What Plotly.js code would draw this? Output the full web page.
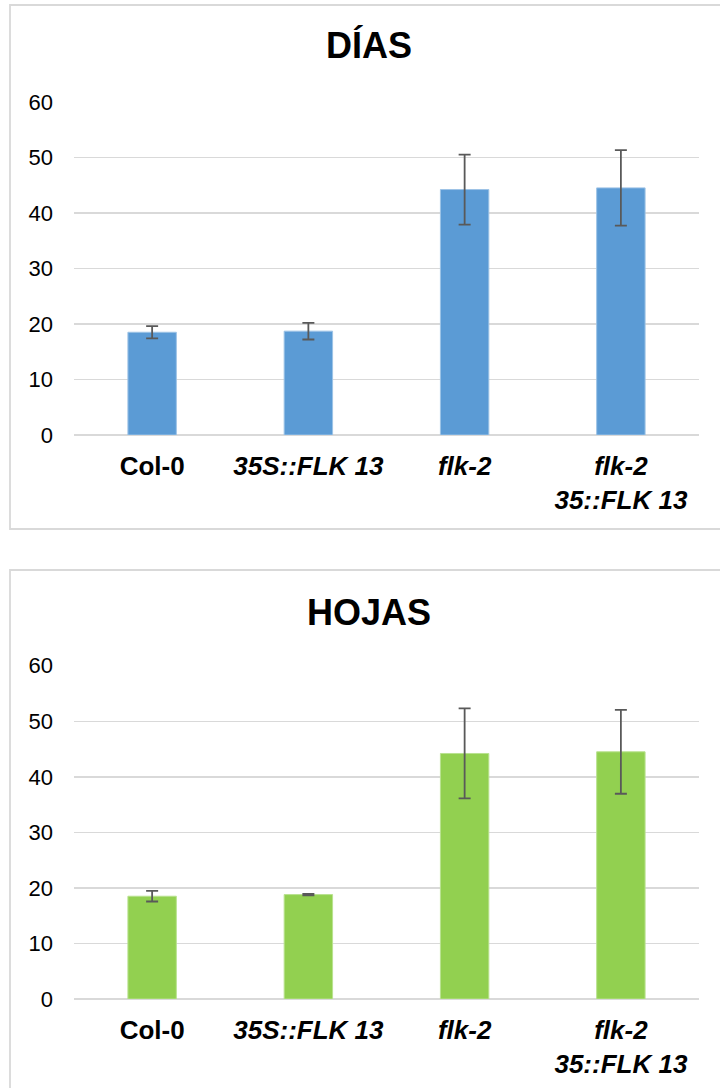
<!DOCTYPE html>
<html>
<head>
<meta charset="utf-8">
<script src="https://cdn.plot.ly/plotly-3.0.1.min.js"></script>
<style>
  html, body { margin: 0; padding: 0; background: #ffffff; }
  #chart { width: 720px; height: 1088px; }
</style>
</head>
<body>
<div id="chart"></div>
<script>
// ---- Data ----
const categories = ['Col-0', '35S::FLK 13', 'flk-2', 'flk-2 35::FLK 13'];
const tickLabels = ['Col-0', '<i>35S::FLK 13</i>', '<i>flk-2</i>', '<i>flk-2</i><br><i>35::FLK 13</i>'];
const diasMean = [18.5, 18.7, 44.2, 44.5];
const diasErr = [1.1, 1.5, 6.3, 6.8];
const hojasMean = [18.5, 18.8, 44.2, 44.5];
const hojasErr = [0.95, 0.12, 8.1, 7.55];
const yTicks = [0, 10, 20, 30, 40, 50, 60];
const titleDias = 'DÍAS';
const titleHojas = 'HOJAS';

// ---- Layout helpers ----
const W = 720, H = 1088;
const px = x => x / W;
const py = y => 1 - y / H;

const FONT = 'Liberation Sans, Arial, Helvetica, sans-serif';

const errStyle = (arr) => ({
  type: 'data', array: arr, symmetric: true, visible: true,
  color: '#595959', thickness: 1.8, width: 6
});

const traces = [
  {
    type: 'bar', x: categories, y: diasMean, xaxis: 'x', yaxis: 'y',
    marker: { color: '#5b9bd5', line: { color: '#9dc3e6', width: 1 } },
    error_y: errStyle(diasErr), hoverinfo: 'x+y'
  },
  {
    type: 'bar', x: categories, y: hojasMean, xaxis: 'x2', yaxis: 'y2',
    marker: { color: '#92d050', line: { color: '#b9e28f', width: 1 } },
    error_y: errStyle(hojasErr), hoverinfo: 'x+y'
  }
];

const xCommon = {
  type: 'category',
  tickmode: 'array', tickvals: categories, ticktext: tickLabels,
  tickfont: { family: FONT, size: 26, color: '#000000', weight: 'bold' },
  showgrid: false, showline: false, zeroline: false, ticks: '',
  ticklabelstandoff: 13, fixedrange: true
};
const yCommon = {
  range: [0, 60], tickmode: 'array', tickvals: yTicks,
  tickfont: { family: FONT, size: 22, color: '#000000' },
  showgrid: true, gridcolor: '#d9d9d9', gridwidth: 1.5,
  zeroline: true, zerolinecolor: '#d9d9d9', zerolinewidth: 1.5,
  showline: false, ticks: '', ticklabelstandoff: 20, fixedrange: true
};

const layout = {
  width: W, height: H,
  margin: { l: 0, r: 0, t: 0, b: 0, pad: 0 },
  paper_bgcolor: '#ffffff', plot_bgcolor: '#ffffff',
  showlegend: false,
  bargap: 0.69,
  xaxis: Object.assign({}, xCommon, { domain: [px(74), px(699)], anchor: 'y' }),
  yaxis: Object.assign({}, yCommon, { domain: [py(435), py(101.8)], anchor: 'x' }),
  xaxis2: Object.assign({}, xCommon, { domain: [px(74), px(699)], anchor: 'y2' }),
  yaxis2: Object.assign({}, yCommon, { domain: [py(999), py(665.7)], anchor: 'x2' }),
  shapes: [
    { type: 'rect', xref: 'paper', yref: 'paper', x0: px(10), x1: 1.05, y0: py(529), y1: py(5),
      line: { color: '#d9d9d9', width: 1.8 }, fillcolor: 'rgba(0,0,0,0)', layer: 'below' },
    { type: 'rect', xref: 'paper', yref: 'paper', x0: px(10), x1: 1.05, y0: -0.05, y1: py(570),
      line: { color: '#d9d9d9', width: 1.8 }, fillcolor: 'rgba(0,0,0,0)', layer: 'below' }
  ],
  annotations: [
    { text: '<b>' + titleDias + '</b>', xref: 'paper', yref: 'paper', x: px(369), y: py(46),
      xanchor: 'center', yanchor: 'middle', showarrow: false,
      font: { family: FONT, size: 36, color: '#000000' } },
    { text: '<b>' + titleHojas + '</b>', xref: 'paper', yref: 'paper', x: px(369), y: py(612),
      xanchor: 'center', yanchor: 'middle', showarrow: false,
      font: { family: FONT, size: 36, color: '#000000' } }
  ]
};

Plotly.newPlot('chart', traces, layout, { staticPlot: true, displayModeBar: false });
</script>
</body>
</html>
